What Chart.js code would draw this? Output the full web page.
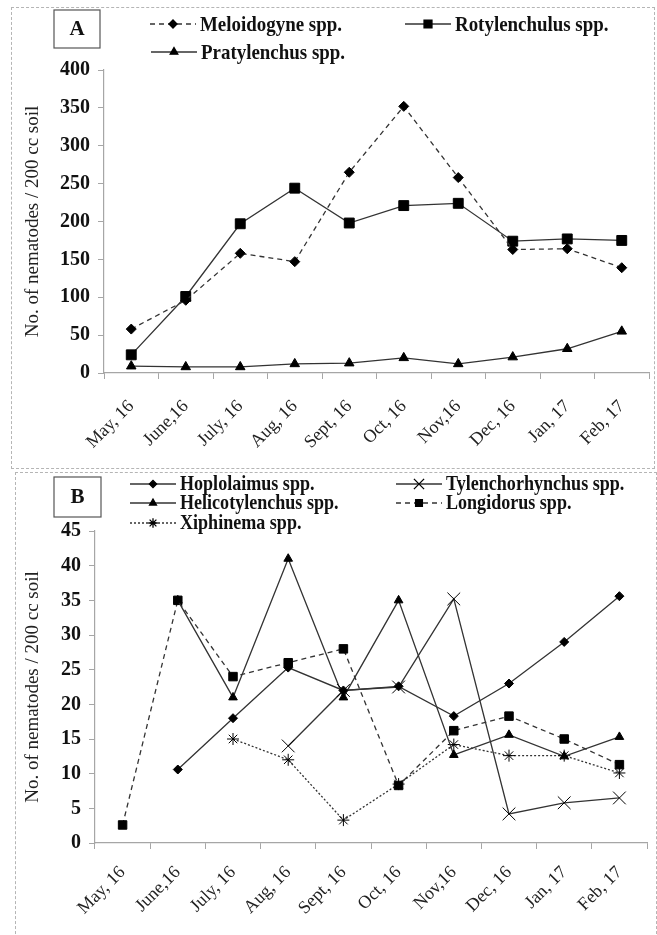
<!DOCTYPE html>
<html>
<head>
<meta charset="utf-8">
<script src="https://cdn.jsdelivr.net/npm/chart.js@4.4.1/dist/chart.umd.min.js"></script>
<style>
  body { margin: 0; background: #fff; }
  .wrap { position: absolute; left: 0; width: 657px; }
  .frame { position: absolute; border: 1px dashed #b5b5b5; pointer-events: none; }
</style>
</head>
<body>
<div class="frame" style="left:11px;top:7px;width:642px;height:460px"></div>
<div class="frame" style="left:15px;top:472px;width:640px;height:470px"></div>
<div class="wrap" style="top:0;height:468px"><canvas id="chartA"></canvas></div>
<div class="wrap" style="top:468px;height:467px"><canvas id="chartB"></canvas></div>
<script>
const months = ['May, 16', 'June,16', 'July, 16', 'Aug, 16', 'Sept, 16', 'Oct, 16', 'Nov,16', 'Dec, 16', 'Jan, 17', 'Feb, 17'];

// panel A
const meloidogyne = [58, 96, 158, 147, 265, 352, 258, 163, 164, 139];
const rotylenchulus = [24, 101, 197, 244, 198, 221, 224, 174, 177, 175];
const pratylenchus = [9, 8, 8, 12, 13, 20, 12, 21, 32, 55];

// panel B
const hoplolaimus = [null, 10.6, 18, 25.3, 22, 22.6, 18.3, 23, 29, 35.6];
const tylenchorhynchus = [null, null, null, 14, 22, 22.5, 35.2, 4.2, 5.8, 6.5];
const helicotylenchus = [null, 35, 21, 41, 21, 35, 12.7, 15.6, 12.5, 15.3];
const longidorus = [2.6, 35, 24, 26, 28, 8.3, 16.2, 18.3, 15, 11.3];
const xiphinema = [null, null, 15, 12, 3.3, 8.5, 14.2, 12.6, 12.6, 10.1];

const SERIF = '"Liberation Serif", "Times New Roman", serif';
const LINE = '#333';
const AXIS = '#a6a6a6';

function series(label, data, style, radius, dash) {
    return {
        label: label,
        data: data,
        borderColor: LINE,
        borderWidth: 1.3,
        borderDash: dash || [],
        pointStyle: style,
        pointRadius: radius,
        pointHoverRadius: radius,
        pointBackgroundColor: '#000',
        pointBorderColor: '#000',
        pointBorderWidth: 1,
        fill: false,
        tension: 0
    };
}

// legend + panel letter drawn on the canvas
const panelDecor = {
    id: 'panelDecor',
    afterDraw(chart, args, opts) {
        const ctx = chart.ctx;
        ctx.save();
        // letter box
        const b = opts.box;
        ctx.fillStyle = '#fff';
        ctx.strokeStyle = '#555';
        ctx.lineWidth = 1.2;
        ctx.fillRect(b.x, b.y, b.w, b.h);
        ctx.strokeRect(b.x, b.y, b.w, b.h);
        ctx.fillStyle = '#111';
        ctx.font = 'bold 21px ' + SERIF;
        ctx.textAlign = 'center';
        ctx.textBaseline = 'middle';
        ctx.fillText(opts.letter, b.x + b.w / 2, b.y + b.h / 2 + 1);

        // legend entries
        opts.entries.forEach(e => {
            const ds = chart.data.datasets[e.index];
            ctx.strokeStyle = LINE;
            ctx.lineWidth = 1.3;
            ctx.setLineDash(ds.borderDash);
            ctx.beginPath();
            ctx.moveTo(e.x, e.y);
            ctx.lineTo(e.x + 46, e.y);
            ctx.stroke();
            ctx.setLineDash([]);
            ctx.fillStyle = '#000';
            ctx.strokeStyle = '#000';
            Chart.helpers.drawPoint(ctx, {
                pointStyle: ds.pointStyle,
                radius: ds.pointRadius * 0.8,
                rotation: 0,
                borderWidth: 1
            }, e.x + 23, e.y);
            // condensed bold serif, like the original
            ctx.save();
            ctx.translate(e.x + 50, e.y);
            ctx.scale(0.86, 1);
            ctx.fillStyle = '#111';
            ctx.font = 'bold ' + opts.fontSize + 'px ' + SERIF;
            ctx.textAlign = 'left';
            ctx.textBaseline = 'middle';
            ctx.fillText(ds.label, 0, 1);
            ctx.restore();
        });
        ctx.restore();
    }
};

function makeOptions(yMax, yStep, yWidth, xHeight, padTop, xPad, decor) {
    return {
        responsive: true,
        maintainAspectRatio: false,
        animation: false,
        layout: { padding: { top: padTop, right: 2, left: 0, bottom: 0 } },
        plugins: {
            legend: { display: false },
            tooltip: { enabled: false },
            panelDecor: decor
        },
        scales: {
            x: {
                offset: true,
                grid: { offset: true, drawOnChartArea: false, drawTicks: true, tickLength: 6, color: AXIS },
                border: { color: AXIS, width: 1.2 },
                ticks: {
                    autoSkip: false,
                    minRotation: 45,
                    maxRotation: 45,
                    padding: xPad,
                    color: '#222',
                    font: { family: SERIF, size: 18 }
                },
                afterFit: s => { s.height = xHeight; }
            },
            y: {
                min: 0,
                max: yMax,
                grid: { drawOnChartArea: false, drawTicks: true, tickLength: 6, color: AXIS },
                border: { color: AXIS, width: 1.2 },
                ticks: {
                    stepSize: yStep,
                    padding: 8,
                    color: '#111',
                    font: { family: SERIF, size: 20, weight: 'bold' }
                },
                title: {
                    display: true,
                    text: 'No. of nematodes / 200 cc soil',
                    color: '#222',
                    padding: { top: 22, bottom: 0 },
                    font: { family: SERIF, size: 19 }
                },
                afterFit: s => { s.width = yWidth; }
            }
        }
    };
}

new Chart(document.getElementById('chartA'), {
    type: 'line',
    data: {
        labels: months,
        datasets: [
            series('Meloidogyne spp.', meloidogyne, 'rectRot', 5, [5, 4]),
            series('Rotylenchulus spp.', rotylenchulus, 'rect', 7),
            series('Pratylenchus spp.', pratylenchus, 'triangle', 5.5)
        ]
    },
    options: makeOptions(400, 50, 104, 95, 70, 17, {
        letter: 'A',
        fontSize: 22,
        box: { x: 54, y: 10, w: 46, h: 38 },
        entries: [
            { index: 0, x: 150, y: 24 },
            { index: 1, x: 405, y: 24 },
            { index: 2, x: 151, y: 52 }
        ]
    }),
    plugins: [panelDecor]
});

new Chart(document.getElementById('chartB'), {
    type: 'line',
    data: {
        labels: months,
        datasets: [
            series('Hoplolaimus spp.', hoplolaimus, 'rectRot', 4.5),
            series('Tylenchorhynchus spp.', tylenchorhynchus, 'crossRot', 9),
            series('Helicotylenchus spp.', helicotylenchus, 'triangle', 5),
            series('Longidorus spp.', longidorus, 'rect', 6, [5, 4]),
            series('Xiphinema spp.', xiphinema, 'star', 6, [2, 2])
        ]
    },
    options: makeOptions(45, 5, 95, 92, 63, 13, {
        letter: 'B',
        fontSize: 21,
        box: { x: 54, y: 9, w: 47, h: 40 },
        entries: [
            { index: 0, x: 130, y: 16 },
            { index: 1, x: 396, y: 16 },
            { index: 2, x: 130, y: 35 },
            { index: 3, x: 396, y: 35 },
            { index: 4, x: 130, y: 55 }
        ]
    }),
    plugins: [panelDecor]
});
</script>
</body>
</html>
